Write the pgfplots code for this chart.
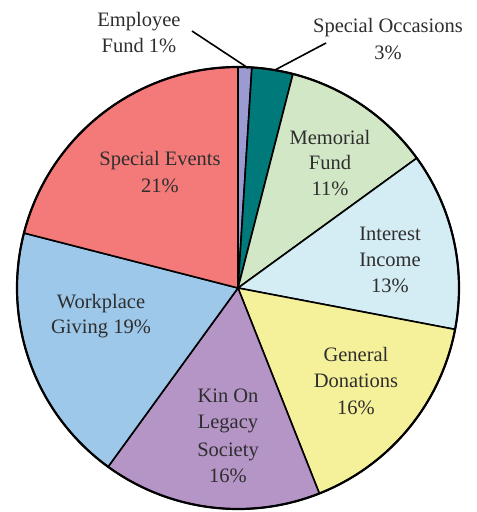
\documentclass[border=0pt]{standalone}
\usepackage{fontspec}
\setmainfont{Liberation Serif}
\usepackage{pgfplots}
\usepackage{pgfplotstable}
\pgfplotsset{compat=1.18}

% slice colours, clockwise from the top
\definecolor{slice0}{HTML}{9B9BD2} % Employee Fund
\definecolor{slice1}{HTML}{00797A} % Special Occasions
\definecolor{slice2}{HTML}{D2E7C6} % Memorial Fund
\definecolor{slice3}{HTML}{D4ECF3} % Interest Income
\definecolor{slice4}{HTML}{F5F19A} % General Donations
\definecolor{slice5}{HTML}{B594C6} % Kin On Legacy Society
\definecolor{slice6}{HTML}{9DC8EA} % Workplace Giving
\definecolor{slice7}{HTML}{F47A7A} % Special Events
\definecolor{txt}{HTML}{2E2E2E}

\pgfplotstableread{
pct
1
3
11
13
16
16
19
21
}\slices

% centre and radius (in the 477x512 frame)
\def\cx{238}
\def\cy{224}
\def\R{221}

% start/end angle of each slice, clockwise from 90 deg
\def\acc{90}
\pgfplotstableforeachcolumnelement{pct}\of\slices\as\p{%
  \pgfmathsetmacro\nxt{\acc-3.6*\p}%
  \expandafter\xdef\csname sa\pgfplotstablerow\endcsname{\nxt}%
  \expandafter\xdef\csname ea\pgfplotstablerow\endcsname{\acc}%
  \xdef\acc{\nxt}%
}

\tikzset{lbl/.style={anchor=base, inner sep=0pt, text=txt, font=\fontsize{20.5}{26}\selectfont}}
\newcommand\lbl[3]{\node[lbl] at (axis cs:#1,{512-#2}) {#3};}

\begin{document}
\begin{tikzpicture}
\begin{axis}[
    width=477pt, height=512pt, scale only axis,
    xmin=0, xmax=477, ymin=0, ymax=512,
    hide axis, clip=false,
]
\pgfplotsinvokeforeach{0,...,7}{
  \addplot[draw=black, line width=1.6pt, line join=round, fill=slice#1,
    domain=\csname sa#1\endcsname:\csname ea#1\endcsname, samples=80]
    ({\cx+\R*cos(x)},{\cy+\R*sin(x)}) -- (axis cs:\cx,\cy) -- cycle;
}
% outer rim
\addplot[draw=black, line width=2.2pt, domain=0:360, samples=361]
  ({\cx+\R*cos(x)},{\cy+\R*sin(x)});

% leader lines
\addplot[black, line width=1.6pt] coordinates {(192,481) (248,444)};
\addplot[black, line width=1.6pt] coordinates {(326,469) (275,442)};

% labels (x centre, baseline from top)
\lbl{139}{27}{Employee}
\lbl{139}{53}{Fund 1\%}
\lbl{388}{33}{Special Occasions}
\lbl{388}{60}{3\%}
\lbl{330}{145}{Memorial}
\lbl{330}{170}{Fund}
\lbl{330}{196}{11\%}
\lbl{390}{241}{Interest}
\lbl{390}{267}{Income}
\lbl{390}{293}{13\%}
\lbl{356}{362}{General}
\lbl{356}{388}{Donations}
\lbl{356}{415}{16\%}
\lbl{228}{403}{Kin On}
\lbl{228}{429}{Legacy}
\lbl{228}{456}{Society}
\lbl{228}{483}{16\%}
\lbl{101}{309}{Workplace}
\lbl{101}{334}{Giving 19\%}
\lbl{160}{166}{Special Events}
\lbl{160}{193}{21\%}
\end{axis}
\pgfresetboundingbox
\path (current axis.south west) rectangle (current axis.north east);
\end{tikzpicture}
\end{document}
